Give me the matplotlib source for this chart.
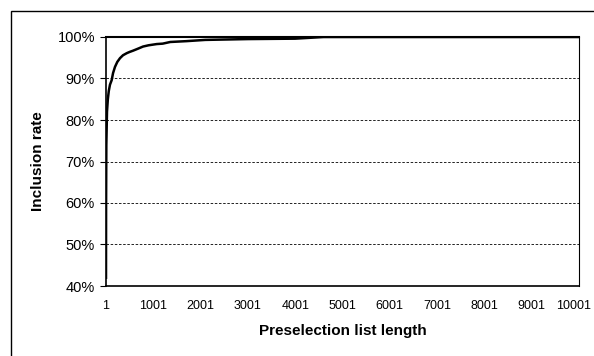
import matplotlib
matplotlib.use("Agg")
import matplotlib.pyplot as plt
import matplotlib.transforms as mtransforms
from matplotlib.patches import Rectangle
from matplotlib.ticker import FixedLocator

plt.rcParams['font.family'] = ['Liberation Sans', 'DejaVu Sans']

# data (list length, inclusion rate %)
list_length = [1, 3, 8, 15, 22, 28, 40, 60, 85, 121, 150, 191, 240, 297, 360, 439,
               500, 572, 680, 784, 900, 1074, 1200, 1360, 1700, 2100, 3000, 4000, 4600, 10001]
inclusion = [42, 60, 74, 78, 82, 83, 85, 87, 88.5, 89.6, 91.3, 92.8, 94.0, 94.9, 95.6, 96.1,
             96.4, 96.7, 97.2, 97.7, 98.0, 98.3, 98.4, 98.8, 99.0, 99.3, 99.5, 99.6, 100, 100]

x_ticks = [1, 1001, 2001, 3001, 4001, 5001, 6001, 7001, 8001, 9001, 10001]
y_ticks = [40, 50, 60, 70, 80, 90, 100]

fig = plt.figure(figsize=(5.94, 3.56), dpi=100)
# outer chart border (clipped on right and bottom)
fig.patches.append(Rectangle((11/594, -0.05), 1.2, 1 - 11/356 + 0.05,
                             transform=fig.transFigure, fill=False,
                             edgecolor='black', linewidth=1.0))

ax = fig.add_axes([106/594, 1 - 286/356, (579-106)/594, (286-37)/356])
ax.plot(list_length, inclusion, color='black', linewidth=1.8, solid_joinstyle='miter')
ax.set_xlim(1, 10001)
ax.set_ylim(40, 100)
ax.xaxis.set_major_locator(FixedLocator(x_ticks))
ax.set_xticklabels([str(t) for t in x_ticks])
ax.yaxis.set_major_locator(FixedLocator(y_ticks))
ax.set_yticklabels([f"{t}%" for t in y_ticks])
for y in y_ticks[1:-1]:
    ax.axhline(y, color='black', linestyle=(0, (3, 2)), linewidth=0.6, zorder=0)
ax.tick_params(axis='x', length=0, pad=10, labelsize=9)
ax.tick_params(axis='y', length=4, width=0.8, direction='out', pad=4, labelsize=10.5)
for s in ['left', 'bottom']:
    ax.spines[s].set_linewidth(1.2)
ax.spines['top'].set_linewidth(1.5)
ax.spines['right'].set_linewidth(0.8)
ax.set_xlabel('Preselection list length', fontsize=11, fontweight='bold', labelpad=9)
ax.set_ylabel('Inclusion rate', fontsize=11, fontweight='bold', labelpad=9)

# keep the last x tick label inside the figure
fig.canvas.draw()
last = ax.get_xticklabels()[-1]
last.set_transform(last.get_transform() + mtransforms.ScaledTranslation(-5/100, 0, fig.dpi_scale_trans))

fig.savefig('out.png', dpi=100)
